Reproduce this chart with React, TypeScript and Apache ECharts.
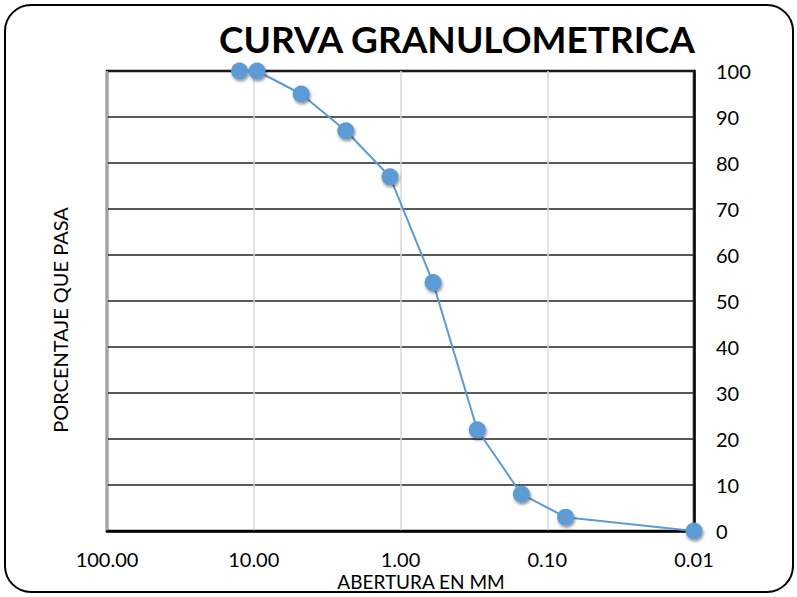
import React, { useEffect, useRef } from "react";
import * as echarts from "echarts";

const aperturesMm = [12.5, 9.5, 4.75, 2.36, 1.18, 0.6, 0.3, 0.15, 0.075, 0.01];
const percentPassing = [100, 100, 95, 87, 77, 54, 22, 8, 3, 0];
const titleText = "CURVA GRANULOMETRICA";
const xAxisTitle = "ABERTURA EN MM";
const yAxisTitle = "PORCENTAJE QUE PASA";

export default function App() {
  const ref = useRef<HTMLDivElement>(null);
  useEffect(() => {
    if (!ref.current) return;
    const chart = echarts.init(ref.current, null, { renderer: "svg" });
    const font = "Lato, 'Open Sans', sans-serif";
    chart.setOption({
      animation: false,
      backgroundColor: "#fff",
      textStyle: { fontFamily: font },
      grid: { left: 107, right: 103, top: 71, bottom: 66, show: true, borderColor: "#000", borderWidth: 2.5, backgroundColor: "transparent" },
      xAxis: {
        type: "log",
        logBase: 10,
        min: 0.01,
        max: 100,
        inverse: true,
        axisLine: { show: true, lineStyle: { color: "#000", width: 2.5 } },
        axisTick: { show: false },
        axisLabel: { color: "#000", fontSize: 20, fontFamily: font, margin: 18, formatter: (v: number) => v.toFixed(2) },
        splitLine: { show: true, lineStyle: { color: "#d9d9d9", width: 1.5 } },
      },
      yAxis: {
        type: "value",
        position: "right",
        min: 0,
        max: 100,
        interval: 10,
        axisLine: { show: true, lineStyle: { color: "#000", width: 2.5 } },
        axisTick: { show: false },
        axisLabel: { color: "#000", fontSize: 20, fontFamily: font, margin: 22 },
        splitLine: { show: true, lineStyle: { color: "#222", width: 1.5 } },
      },
      series: [
        {
          type: "line",
          data: aperturesMm.map((x, i) => [x, percentPassing[i]]),
          symbol: "circle",
          symbolSize: 17,
          lineStyle: { color: "#5b9bd5", width: 2 },
          itemStyle: { color: "#5b9bd5", shadowBlur: 3, shadowColor: "rgba(0,0,0,0.45)", shadowOffsetX: 1, shadowOffsetY: 2 },
          z: 5,
        },
      ],
      graphic: [
        { type: "rect", shape: { x: 5, y: 5, width: 788, height: 587, r: 26 }, style: { fill: "none", stroke: "#000", lineWidth: 2 }, z: 100 },
        { type: "text", x: 457, y: 38, style: { text: titleText, fill: "#000", font: `bold 37px ${font}`, align: "center", verticalAlign: "middle" } },
        { type: "text", x: 421, y: 581, style: { text: xAxisTitle, fill: "#000", font: `19px ${font}`, align: "center", verticalAlign: "middle" } },
        { type: "text", x: 60, y: 320, rotation: Math.PI / 2, style: { text: yAxisTitle, fill: "#000", font: `20px ${font}`, align: "center", verticalAlign: "middle" } },
      ],
    });
    return () => chart.dispose();
  }, []);
  return <div ref={ref} style={{ width: 797, height: 597, position: "absolute", left: 0, top: 0 }} />;
}
